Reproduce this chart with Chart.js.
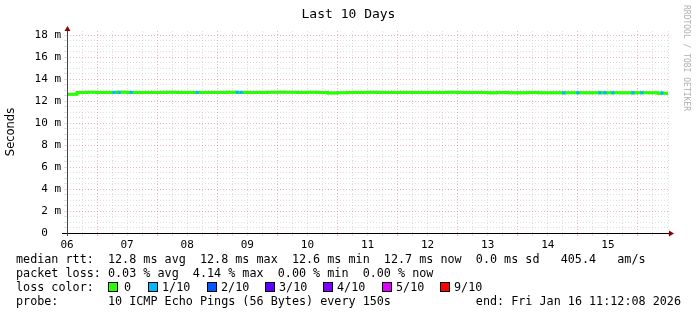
<!DOCTYPE html>
<html>
<head>
<meta charset="utf-8">
<script src="https://cdn.jsdelivr.net/npm/chart.js@4"></script>
<style>
body { margin: 0; background: #fff; }
#wrap { position: relative; width: 697px; height: 315px; overflow: hidden; }
canvas { position: absolute; left: 0; top: 0; }
.txt { position: absolute; font-family: "DejaVu Sans Mono", monospace; font-size: 11.75px; line-height: 14px; white-space: pre; color: #000; }
.box { position: absolute; top: 282px; width: 8px; height: 8px; border: 1px solid #000; }
#title { position: absolute; left: 0; width: 697px; top: 5px; text-align: center; font-family: "DejaVu Sans Mono", monospace; font-size: 13px; line-height: 18px; color: #000; }
#mark { position: absolute; left: 691px; top: 5px; font-family: "DejaVu Sans Mono", monospace; font-size: 8px; line-height: 10px; color: #b0b0b0; white-space: pre; transform: rotate(90deg); transform-origin: 0 0; }
</style>
</head>
<body>
<div id="wrap">
  <canvas id="smokeChart" width="697" height="315"></canvas>
  <div id="title">Last 10 Days</div>
  <div id="mark">RRDTOOL / TOBI OETIKER</div>
  <div class="txt" style="left:16px; top:252px;">median rtt:  12.8 ms avg  12.8 ms max  12.6 ms min  12.7 ms now  0.0 ms sd   405.4   am/s
packet loss: 0.03 % avg  4.14 % max  0.00 % min  0.00 % now
loss color:
probe:       10 ICMP Echo Pings (56 Bytes) every 150s</div>
  <div class="txt" style="right:16px; top:294px;">end: Fri Jan 16 11:12:08 2026</div>
  <div id="lossLegend"></div>
</div>
<script>
// 10 days, one sample every 4 hours starting Jan 6 12:00
const stepHours = 4;
const xTickLabels = ['06', '07', '08', '09', '10', '11', '12', '13', '14', '15'];
const yTickLabels = ['0  ', '2 m', '4 m', '6 m', '8 m', '10 m', '12 m', '14 m', '16 m', '18 m'];

// median rtt in ms
const median = [
  12.62, 12.63, 12.80, 12.81, 12.80, 12.80, 12.81, 12.80, 12.80, 12.79,
  12.80, 12.81, 12.80, 12.80, 12.79, 12.80, 12.80, 12.81, 12.80, 12.80,
  12.80, 12.81, 12.82, 12.81, 12.80, 12.81, 12.80, 12.76, 12.78, 12.80,
  12.80, 12.81, 12.80, 12.80, 12.80, 12.80, 12.79, 12.80, 12.80, 12.81,
  12.80, 12.80, 12.79, 12.78, 12.79, 12.78, 12.78, 12.79, 12.78, 12.77,
  12.78, 12.78, 12.77, 12.78, 12.77, 12.78, 12.77, 12.77, 12.78, 12.77,
  12.72
];
// smoke band (upper / lower ping times)
const smokeHi = [
  12.95, 12.75, 12.92, 12.93, 12.92, 12.90, 12.95, 12.92, 12.91, 12.90,
  12.92, 12.93, 12.91, 12.92, 12.90, 12.91, 12.92, 12.93, 12.92, 12.91,
  12.90, 12.93, 12.95, 12.93, 12.92, 12.93, 12.91, 12.88, 12.90, 12.92,
  12.91, 12.93, 12.92, 12.91, 12.92, 12.90, 12.91, 12.92, 12.91, 12.93,
  12.92, 12.91, 12.90, 12.89, 12.90, 12.89, 12.90, 12.91, 12.89, 12.88,
  12.90, 12.89, 12.88, 12.89, 12.88, 12.90, 12.88, 12.89, 12.90, 12.88,
  12.85
];
const smokeLo = [
  12.52, 12.53, 12.70, 12.70, 12.69, 12.70, 12.70, 12.69, 12.70, 12.68,
  12.69, 12.70, 12.70, 12.69, 12.68, 12.69, 12.70, 12.70, 12.69, 12.70,
  12.69, 12.70, 12.71, 12.70, 12.69, 12.70, 12.69, 12.64, 12.66, 12.69,
  12.70, 12.69, 12.69, 12.70, 12.68, 12.69, 12.68, 12.69, 12.70, 12.70,
  12.69, 12.68, 12.66, 12.65, 12.66, 12.65, 12.64, 12.66, 12.65, 12.64,
  12.65, 12.66, 12.64, 12.65, 12.64, 12.66, 12.64, 12.65, 12.66, 12.64,
  12.60
];
// moments with packet loss (hours from start) and how many of 10 were lost
const lossHours = [18.8, 20.8, 25.6, 52, 68, 69.6, 198.4, 204, 212.8, 214.8, 218, 226, 229.6, 237.6];
const lossCounts = [1, 1, 1, 1, 1, 1, 1, 1, 1, 1, 1, 1, 1, 1];

const lossLegend = ['0', '1/10', '2/10', '3/10', '4/10', '5/10', '9/10'];
const lossColors = { 0: '#26ff00', 1: '#00b8ff', 2: '#0059ff', 3: '#5e00ff', 4: '#7e00ff', 5: '#dd00ff', 9: '#ff0000' };

// loss color legend boxes
const legendBoxX = [108, 148, 207, 265, 323, 382, 440];
const legendEl = document.getElementById('lossLegend');
lossLegend.forEach((lbl, i) => {
    const key = i === 6 ? 9 : i;
    const b = document.createElement('div');
    b.className = 'box';
    b.style.left = legendBoxX[i] + 'px';
    b.style.background = lossColors[key];
    legendEl.appendChild(b);
    const t = document.createElement('div');
    t.className = 'txt';
    t.style.left = (legendBoxX[i] + (i === 0 ? 16 : 14)) + 'px';
    t.style.top = '280px';
    t.innerText = lbl;
    legendEl.appendChild(t);
});

const toPoints = arr => arr.map((v, i) => ({ x: i * stepHours, y: v }));

const majorGrid = 'rgba(200, 70, 70, 0.4)';
const minorGrid = 'rgba(150, 150, 150, 0.3)';

// axis lines with the little rrdtool arrows
const axisArrows = {
    id: 'axisArrows',
    afterDraw(chart) {
        const { ctx, chartArea: a } = chart;
        ctx.save();
        ctx.strokeStyle = '#000';
        ctx.lineWidth = 1;
        ctx.beginPath();
        ctx.moveTo(a.left - 5, a.bottom + 0.5);
        ctx.lineTo(a.right + 2, a.bottom + 0.5);
        ctx.stroke();
        ctx.strokeStyle = '#444';
        ctx.beginPath();
        ctx.moveTo(a.left + 0.5, a.bottom + 3);
        ctx.lineTo(a.left + 0.5, a.top - 2);
        ctx.stroke();
        ctx.fillStyle = '#8b0000';
        ctx.beginPath();
        ctx.moveTo(a.left - 2.5, a.top);
        ctx.lineTo(a.left + 3.5, a.top);
        ctx.lineTo(a.left + 0.5, a.top - 5);
        ctx.closePath();
        ctx.fill();
        ctx.beginPath();
        ctx.moveTo(a.right + 1, a.bottom - 2.5);
        ctx.lineTo(a.right + 1, a.bottom + 3.5);
        ctx.lineTo(a.right + 6, a.bottom + 0.5);
        ctx.closePath();
        ctx.fill();
        ctx.restore();
    }
};

const monoFont = { family: 'DejaVu Sans Mono', size: 11 };

new Chart(document.getElementById('smokeChart').getContext('2d'), {
    type: 'line',
    data: {
        datasets: [
            { data: toPoints(smokeLo), borderWidth: 0, pointRadius: 0, stepped: 'after', fill: false, order: 4 },
            { data: toPoints(smokeHi), borderWidth: 0, pointRadius: 0, stepped: 'after', fill: '-1', backgroundColor: 'rgba(150,150,150,0.75)', order: 3 },
            { data: toPoints(median), borderColor: lossColors[0], borderWidth: 3, borderCapStyle: 'butt', pointRadius: 0, stepped: 'after', fill: false, order: 2 },
            {
                data: lossHours.map(h => ({ x: h, y: median[Math.floor(h / stepHours)] })),
                showLine: false,
                pointStyle: 'rect',
                pointRadius: 2.2,
                pointBorderWidth: 0,
                pointBackgroundColor: lossCounts.map(c => lossColors[c]),
                order: 1
            }
        ]
    },
    options: {
        responsive: false,
        animation: false,
        devicePixelRatio: 1,
        layout: { padding: { left: 0, right: 29, top: 31, bottom: 0 } },
        plugins: {
            legend: { display: false },
            tooltip: { enabled: false },
            title: { display: false }
        },
        scales: {
            x: {
                type: 'linear',
                min: 0,
                max: 240,
                offset: false,
                afterFit: s => { s.height = 82; },
                border: { display: false, dash: [1, 2] },
                grid: {
                    color: c => (c.tick && c.tick.value % 24 === 12) ? majorGrid : minorGrid,
                    tickColor: c => (c.tick && c.tick.value % 24 === 12) ? majorGrid : minorGrid,
                    tickLength: 3
                },
                ticks: {
                    stepSize: 6,
                    autoSkip: false,
                    includeBounds: false,
                    maxRotation: 0,
                    maxTicksLimit: 100,
                    padding: 3,
                    color: '#000',
                    font: monoFont,
                    callback: v => (v % 24 === 0 && xTickLabels[v / 24]) ? xTickLabels[v / 24] : ''
                }
            },
            y: {
                min: 0,
                max: 18.4,
                afterFit: s => { s.width = 67; },
                border: { display: false, dash: [1, 2] },
                grid: {
                    color: c => {
                        const v = c.tick ? c.tick.value : 0;
                        if (v % 2 === 0) return majorGrid;
                        if (v % 0.5 === 0) return minorGrid;
                        return 'rgba(0,0,0,0)';
                    },
                    tickColor: c => {
                        const v = c.tick ? c.tick.value : 0;
                        return v % 0.5 === 0 ? minorGrid : 'rgba(0,0,0,0)';
                    },
                    tickLength: 3
                },
                ticks: {
                    stepSize: 0.5,
                    autoSkip: false,
                    includeBounds: false,
                    maxTicksLimit: 100,
                    padding: 3,
                    color: '#000',
                    font: monoFont,
                    callback: v => v % 2 === 0 ? yTickLabels[v / 2] : ''
                },
                title: {
                    display: true,
                    text: 'Seconds',
                    color: '#000',
                    font: { family: 'DejaVu Sans', size: 11.5 },
                    padding: { top: 4, bottom: 0 }
                }
            }
        }
    },
    plugins: [axisArrows]
});
</script>
</body>
</html>
